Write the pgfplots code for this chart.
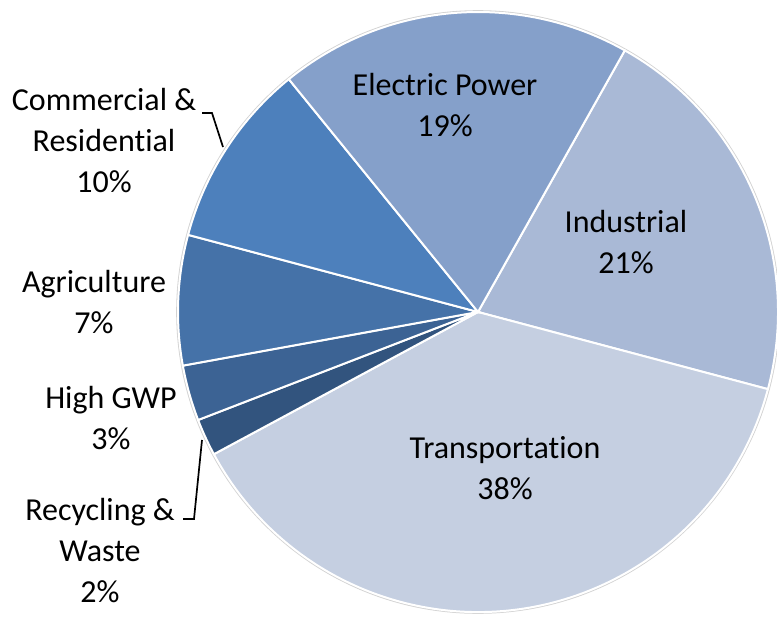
\documentclass[border=0pt]{standalone}
\usepackage{fontspec}
\setmainfont{Carlito}[Ligatures=NoCommon]
\usepackage{pgfplots}
\pgfplotsset{compat=1.18}
\definecolor{cInd}{RGB}{169,185,214}
\definecolor{cTra}{RGB}{197,207,225}
\definecolor{cRec}{RGB}{50,84,126}
\definecolor{cGwp}{RGB}{60,99,148}
\definecolor{cAgr}{RGB}{69,114,168}
\definecolor{cCom}{RGB}{77,128,188}
\definecolor{cEle}{RGB}{133,160,202}
\tikzset{lab/.style={font=\fontsize{16}{20.5}\selectfont, align=center, text=black, inner sep=0pt}}
\begin{document}
\begin{tikzpicture}
\begin{axis}[
  xmin=0, xmax=777, ymin=0, ymax=618,
  scale only axis, width=388.5pt, height=309pt,
  hide axis, clip=true,
]
% slices: Industrial 21, Transportation 38, Recycling 2, High GWP 3, Agriculture 7, Commercial 10, Electric 19
\draw[gray!35, line width=1.2pt] (axis cs:478,306) circle[radius=150.3pt];
\fill[cInd, draw=white, line width=1pt] (axis cs:478,306) -- ++({60.7}:150pt) arc[start angle={60.7}, delta angle={-21*3.6}, radius=150pt] -- cycle;
\fill[cTra, draw=white, line width=1pt] (axis cs:478,306) -- ++({60.7-21*3.6}:150pt) arc[start angle={60.7-21*3.6}, delta angle={-38*3.6}, radius=150pt] -- cycle;
\fill[cRec, draw=white, line width=1pt] (axis cs:478,306) -- ++({60.7-(21+38)*3.6}:150pt) arc[start angle={60.7-(21+38)*3.6}, delta angle={-2*3.6}, radius=150pt] -- cycle;
\fill[cGwp, draw=white, line width=1pt] (axis cs:478,306) -- ++({60.7-(21+38+2)*3.6}:150pt) arc[start angle={60.7-(21+38+2)*3.6}, delta angle={-3*3.6}, radius=150pt] -- cycle;
\fill[cAgr, draw=white, line width=1pt] (axis cs:478,306) -- ++({60.7-(21+38+2+3)*3.6}:150pt) arc[start angle={60.7-(21+38+2+3)*3.6}, delta angle={-7*3.6}, radius=150pt] -- cycle;
\fill[cCom, draw=white, line width=1pt] (axis cs:478,306) -- ++({60.7-(21+38+2+3+7)*3.6}:150pt) arc[start angle={60.7-(21+38+2+3+7)*3.6}, delta angle={-10*3.6}, radius=150pt] -- cycle;
\fill[cEle, draw=white, line width=1pt] (axis cs:478,306) -- ++({60.7-(21+38+2+3+7+10)*3.6}:150pt) arc[start angle={60.7-(21+38+2+3+7+10)*3.6}, delta angle={-19*3.6}, radius=150pt] -- cycle;
% labels
\node[lab] at (axis cs:445,513) {Electric Power\\19\%};
\node[lab] at (axis cs:626,376) {Industrial\\21\%};
\node[lab] at (axis cs:505,150) {Transportation\\38\%};
\node[lab] at (axis cs:104,477) {Commercial \&\\Residential\\10\%};
\node[lab] at (axis cs:94,316) {Agriculture\\7\%};
\node[lab] at (axis cs:111,200) {High GWP\\3\%};
\node[lab] at (axis cs:100,67) {Recycling \&\\Waste\\2\%};
% leader lines
\draw[black, line width=0.85pt] (axis cs:202,505) -- (axis cs:212,505) -- (axis cs:223,471);
\draw[black, line width=0.85pt] (axis cs:183,99) -- (axis cs:194,99) -- (axis cs:202,178);
\end{axis}
\pgfresetboundingbox
\useasboundingbox (current axis.south west) rectangle (current axis.north east);
\end{tikzpicture}
\end{document}
